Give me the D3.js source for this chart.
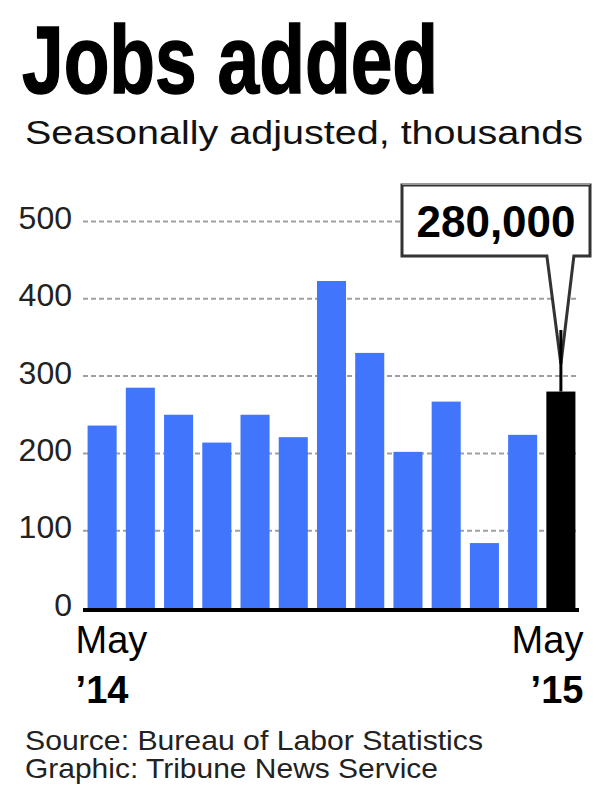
<!DOCTYPE html>
<html>
<head>
<meta charset="utf-8">
<script src="https://cdn.jsdelivr.net/npm/d3@7/dist/d3.min.js"></script>
<style>
  html, body { margin: 0; padding: 0; background: #fff; }
  svg { display: block; }
  text { font-family: "Liberation Sans", Arial, Helvetica, sans-serif; }
</style>
</head>
<body>
<svg id="chart" width="613" height="800"></svg>
<script>
// ---- data ----
const months = ["May 2014","Jun 2014","Jul 2014","Aug 2014","Sep 2014","Oct 2014","Nov 2014",
                "Dec 2014","Jan 2015","Feb 2015","Mar 2015","Apr 2015","May 2015"];
const jobsAdded = [236, 285, 250, 214, 250, 221, 423, 330, 202, 267, 84, 224, 280];
const yTicks = [0, 100, 200, 300, 400, 500];
const xLabelsFirst = ["May", "\u201914"];
const xLabelsLast = ["May", "\u201915"];
const titleText = "Jobs added";
const subtitleText = "Seasonally adjusted, thousands";
const calloutText = "280,000";
const sourceLines = ["Source: Bureau of Labor Statistics", "Graphic: Tribune News Service"];

// ---- setup ----
const svg = d3.select("#chart");
const blue = "#4075fc";

const x = d3.scaleBand().domain(months).range([83, 580]).paddingInner(0.24).paddingOuter(0.12);
const y = d3.scaleLinear().domain([0, 500]).range([608, 221.5]);

// title
svg.append("text")
  .attr("x", 22).attr("y", 93)
  .attr("font-size", 96).attr("font-weight", 700)
  .attr("textLength", 416).attr("lengthAdjust", "spacingAndGlyphs")
  .attr("fill", "#000").attr("stroke", "#000").attr("stroke-width", 1.5)
  .text(titleText);

svg.append("text")
  .attr("x", 25).attr("y", 144)
  .attr("font-size", 33)
  .attr("textLength", 558).attr("lengthAdjust", "spacingAndGlyphs")
  .attr("fill", "#111")
  .text(subtitleText);

// gridlines
svg.append("g").selectAll("line")
  .data(yTicks.filter(d => d > 0))
  .join("line")
  .attr("x1", 83).attr("x2", 579)
  .attr("y1", d => y(d)).attr("y2", d => y(d))
  .attr("stroke", "#a0a0a0").attr("stroke-width", 2)
  .attr("stroke-dasharray", "5,3");

// y axis labels
const yAxis = d3.axisLeft(y).tickValues(yTicks).tickSize(0).tickPadding(0);
const gy = svg.append("g").attr("transform", "translate(72,0)").call(yAxis);
gy.select(".domain").remove();
gy.selectAll("text")
  .attr("font-size", 32).attr("fill", "#222")
  .attr("font-family", "'Liberation Sans', Arial, sans-serif")
  .attr("dy", 7).attr("x", 0);

// bars
svg.append("g").selectAll("rect")
  .data(jobsAdded)
  .join("rect")
  .attr("x", (d, i) => x(months[i]))
  .attr("width", x.bandwidth())
  .attr("y", d => y(d))
  .attr("height", d => y(0) - y(d))
  .attr("fill", (d, i) => i === jobsAdded.length - 1 ? "#000" : blue);

// baseline
svg.append("line")
  .attr("x1", 83).attr("x2", 579)
  .attr("y1", y(0) + 2).attr("y2", y(0) + 2)
  .attr("stroke", "#000").attr("stroke-width", 4);

// x labels
const firstX = x(months[0]) - 12;
const lastX = x(months[months.length - 1]) + x.bandwidth() + 8;
svg.append("text").attr("x", firstX).attr("y", 653).attr("font-size", 38).attr("fill", "#000").text(xLabelsFirst[0]);
svg.append("text").attr("x", firstX).attr("y", 703).attr("font-size", 38).attr("font-weight", 700).attr("fill", "#000").text(xLabelsFirst[1]);
svg.append("text").attr("x", lastX).attr("y", 653).attr("font-size", 38).attr("text-anchor", "end").attr("fill", "#000").text(xLabelsLast[0]);
svg.append("text").attr("x", lastX).attr("y", 703).attr("font-size", 38).attr("font-weight", 700).attr("text-anchor", "end").attr("fill", "#000").text(xLabelsLast[1]);

// callout
const last = months[months.length - 1];
const cx = x(last) + x.bandwidth() / 2;
const topY = y(jobsAdded[jobsAdded.length - 1]);
const bx0 = 402, bx1 = 590, by0 = 185, by1 = 256;
const pl = cx - 14, pr = cx + 13, tipY = 364;
const g = svg.append("g");
g.append("path")
  .attr("d", `M${bx0},${by0} L${bx1},${by0} L${bx1},${by1} L${pr},${by1} L${cx},${tipY} L${pl},${by1} L${bx0},${by1} Z`)
  .attr("fill", "#fff").attr("stroke", "#333").attr("stroke-width", 3)
  .attr("stroke-linejoin", "miter");
g.append("line")
  .attr("x1", bx0).attr("x2", bx1)
  .attr("y1", by0 - 1).attr("y2", by0 - 1)
  .attr("stroke", "#999").attr("stroke-width", 2);
g.append("line")
  .attr("x1", cx).attr("x2", cx)
  .attr("y1", 330).attr("y2", topY)
  .attr("stroke", "#000").attr("stroke-width", 3);
g.append("text")
  .attr("x", (bx0 + bx1) / 2).attr("y", 237)
  .attr("text-anchor", "middle")
  .attr("font-size", 44).attr("font-weight", 700)
  .attr("fill", "#000")
  .text(calloutText);

// source
svg.append("text").attr("x", 25).attr("y", 750).attr("font-size", 28)
  .attr("textLength", 458).attr("lengthAdjust", "spacingAndGlyphs").attr("fill", "#222").text(sourceLines[0]);
svg.append("text").attr("x", 25).attr("y", 778).attr("font-size", 28)
  .attr("textLength", 413).attr("lengthAdjust", "spacingAndGlyphs").attr("fill", "#222").text(sourceLines[1]);
</script>
</body>
</html>
